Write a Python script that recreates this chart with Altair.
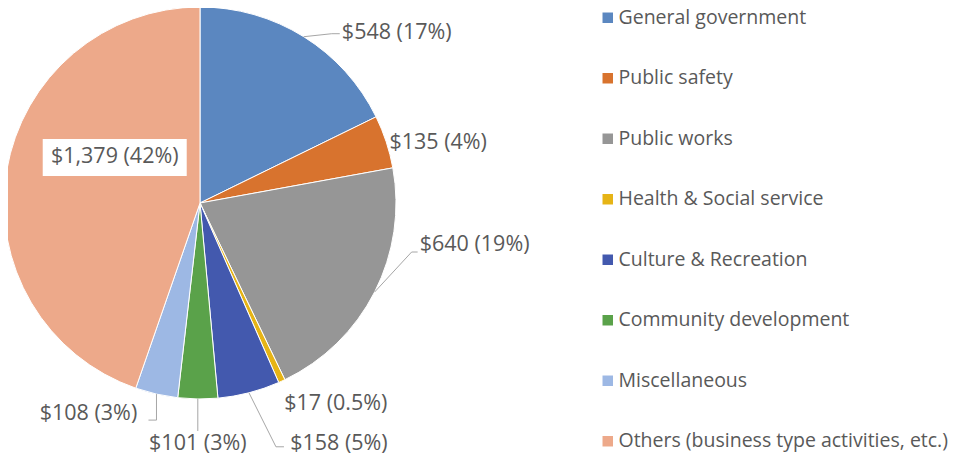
import altair as alt
import pandas as pd
import numpy as np

# ---------------- data ----------------
CATEGORIES = [
    "General government",
    "Public safety",
    "Public works",
    "Health & Social service",
    "Culture & Recreation",
    "Community development",
    "Miscellaneous",
    "Others (business type activities, etc.)",
]
VALUES = [548, 135, 640, 17, 158, 101, 108, 1379]
LABELS = ["$548 (17%)", "$135 (4%)", "$640 (19%)", "$17 (0.5%)",
          "$158 (5%)", "$101 (3%)", "$108 (3%)", "$1,379 (42%)"]
COLORS = ["#5B87C0", "#D8732E", "#969696", "#E6B416",
          "#4359AE", "#5AA24A", "#9DB8E4", "#EDA98A"]

# ---------------- layout ----------------
CX, CY, R = 192, 195, 196          # pie centre / radius (pixels)
FONT = "Open Sans"
FS = 21.5
TEXT_COLOR = "#595959"
# label offset from the slice's outer edge (mid-angle point)
LABEL_OFFSET = [(93, -4), (52, 1), (100, -47), (54, 23),
                (90, 51), (0, 45), (-68, 20), (108, -13)]
# leader-line points relative to label centre (elbow, end); None = no leader
LEADER = [[(-65, 1), (-57, 1)], None, [(-63, 7), (-57, 7)], None,
          [(-63, 3), (-55, 3)], [(0, -13)], [(68, 6), (60, 6)], None]
BOXED = [False] * 7 + [True]
BOX_HALF = (72, 18.5)

# ---------------- derived geometry ----------------
vals = np.array(VALUES, dtype=float)
cum = np.cumsum(vals)
mid = (cum - vals / 2) / vals.sum() * 2 * np.pi
edge_x = CX + R * np.sin(mid)
edge_y = CY - R * np.cos(mid)

df = pd.DataFrame({
    "category": CATEGORIES,
    "value": VALUES,
    "idx": list(range(len(CATEGORIES))),
    "label": LABELS,
    "lx": [edge_x[i] + LABEL_OFFSET[i][0] for i in range(len(VALUES))],
    "ly": [edge_y[i] + LABEL_OFFSET[i][1] for i in range(len(VALUES))],
})

line_rows = []
for i, pts in enumerate(LEADER):
    if pts is None:
        continue
    line_rows.append({"category": CATEGORIES[i], "seq": 0, "px": edge_x[i], "py": edge_y[i]})
    for k, (ox, oy) in enumerate(pts):
        line_rows.append({"category": CATEGORIES[i], "seq": k + 1,
                          "px": df.loc[i, "lx"] + ox, "py": df.loc[i, "ly"] + oy})
lines_df = pd.DataFrame(line_rows)

box_df = df[BOXED].copy()
box_df["x1"] = box_df["lx"] - BOX_HALF[0]
box_df["x2"] = box_df["lx"] + BOX_HALF[0]
box_df["y1"] = box_df["ly"] - BOX_HALF[1]
box_df["y2"] = box_df["ly"] + BOX_HALF[1]

# ---------------- chart ----------------
pie = alt.Chart(df).mark_arc(outerRadius=R, x=CX, y=CY, stroke="white", strokeWidth=1).encode(
    theta=alt.Theta("value:Q", stack=True),
    order=alt.Order("idx:Q"),
    color=alt.Color(
        "category:N",
        scale=alt.Scale(domain=CATEGORIES, range=COLORS),
        sort=CATEGORIES,
        legend=alt.Legend(
            title=None, orient="none", legendX=590, legendY=0,
            symbolType="square", symbolSize=110, symbolStrokeWidth=0,
            labelFont=FONT, labelFontSize=19.5, labelColor=TEXT_COLOR,
            labelOffset=1, rowPadding=39.5, labelLimit=500, padding=0,
        ),
    ),
)

leaders = alt.Chart(lines_df).mark_line(color="#A6A6A6", strokeWidth=1).encode(
    x=alt.X("px:Q", scale=None, axis=None),
    y=alt.Y("py:Q", scale=None, axis=None),
    detail="category:N",
    order="seq:Q",
)

boxes = alt.Chart(box_df).mark_rect(color="white").encode(
    x=alt.X("x1:Q", scale=None, axis=None), x2="x2:Q",
    y=alt.Y("y1:Q", scale=None, axis=None), y2="y2:Q",
)

labels = alt.Chart(df).mark_text(
    font=FONT, fontSize=FS, color=TEXT_COLOR, align="center", baseline="middle"
).encode(
    x=alt.X("lx:Q", scale=None, axis=None),
    y=alt.Y("ly:Q", scale=None, axis=None),
    text="label:N",
)

chart = alt.layer(pie, leaders, boxes, labels).properties(
    width=946, height=449, autosize=alt.AutoSizeParams(type="none"), padding=0
).configure_view(stroke=None)

chart.save("out.html", embed_options={"renderer": "svg", "actions": False})
